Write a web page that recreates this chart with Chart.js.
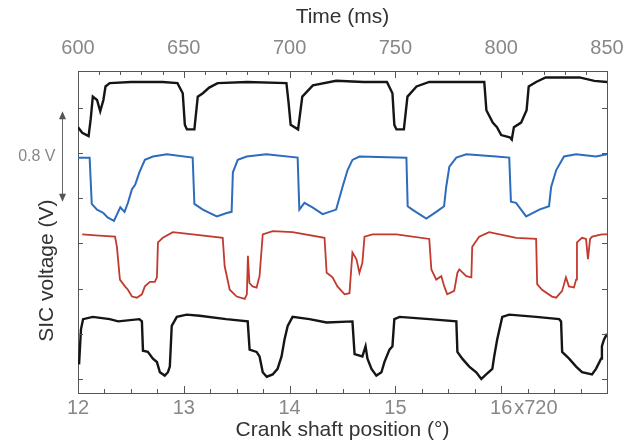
<!DOCTYPE html>
<html>
<head>
<meta charset="utf-8">
<script src="https://cdn.jsdelivr.net/npm/chart.js@4.4.1/dist/chart.umd.min.js"></script>
<style>
  body { margin: 0; background: #fff; }
  canvas { display: block; }
</style>
</head>
<body>
<canvas id="myChart" width="624" height="443"></canvas>
<script>
// tick labels
const timeTicks = [600, 650, 700, 750, 800, 850];
const crankTicks = [12, 13, 14, 15, 16];
const voltTicks = [0, 0.4, 0.8, 1.2, 1.6, 2.0, 2.4];

// trace 1 (black, top)
const t1 = [600, 602, 605, 606, 607, 609, 610.5, 612, 613, 615, 625, 640, 647, 649.5, 650.5, 651.5, 655, 656.6, 659, 662,
  666, 680, 698.5, 699.5, 700.5, 704, 706, 711, 722, 735, 746, 748.6, 749.5, 750.5, 754, 755.7, 760, 766, 780, 792,
  793, 796, 798, 800, 804, 805, 806, 809.4, 812, 813, 816.5, 821, 829, 837, 844, 850];
const v1 = [2.23, 2.18, 2.15, 2.30, 2.50, 2.47, 2.37, 2.47, 2.59, 2.62, 2.63, 2.63, 2.62, 2.53, 2.25, 2.21, 2.21, 2.50, 2.53, 2.58,
  2.62, 2.63, 2.62, 2.45, 2.25, 2.21, 2.50, 2.60, 2.64, 2.63, 2.63, 2.53, 2.25, 2.21, 2.21, 2.50, 2.59, 2.63, 2.63, 2.63,
  2.38, 2.27, 2.23, 2.16, 2.14, 2.12, 2.23, 2.27, 2.38, 2.59, 2.63, 2.67, 2.67, 2.67, 2.64, 2.63];

// trace 2 (blue)
const t2 = [600, 605.5, 606.5, 609, 612, 614, 617, 620, 622, 623.6, 625.5, 627, 629, 631.6, 635.4, 642, 654.2, 655, 659, 665.6,
  670.3, 672.6, 673.2, 675.5, 679.7, 689, 703.8, 704.6, 707, 710.8, 715.6, 722, 725, 727.4, 729.7, 733, 755.2, 755.8, 758, 764.6,
  769.3, 773, 774, 775.5, 778.8, 783.5, 797.6, 803.8, 804.6, 807, 811.8, 818, 822.6, 823.6, 826, 829.7, 835.4, 844.8, 850];
const v2 = [1.96, 1.96, 1.55, 1.50, 1.47, 1.43, 1.40, 1.52, 1.48, 1.56, 1.68, 1.72, 1.83, 1.94, 1.97, 1.99, 1.96, 1.55, 1.50, 1.44,
  1.47, 1.48, 1.83, 1.94, 1.97, 1.99, 1.96, 1.50, 1.56, 1.52, 1.46, 1.50, 1.70, 1.85, 1.94, 1.97, 1.96, 1.53, 1.50, 1.42,
  1.48, 1.53, 1.70, 1.88, 1.96, 1.99, 1.97, 1.96, 1.57, 1.56, 1.44, 1.50, 1.53, 1.70, 1.85, 1.97, 1.99, 1.97, 1.99];

// trace 3 (red)
const t3 = [602, 610, 617.5, 618.4, 619.8, 622.2, 623.6, 625.5, 627.8, 630.2, 631.6, 634, 636.3, 637.3, 637.8, 640.1, 644.8, 654.2, 668.4, 669.3,
  671.7, 675, 678.8, 679.8, 680.3, 681, 682.5, 684.4, 685.8, 687.3, 692, 701.4, 716.5, 717.5, 720.3, 722.6, 726, 728.3, 729.7, 731.6,
  733, 734.4, 735.4, 739.2, 750.5, 766, 767, 769.3, 771.7, 773.1, 774.5, 777.8, 779.3, 780.2, 783.5, 785.9, 786.3, 789.6, 794.3, 807.1,
  816.5, 817, 819.3, 824, 826, 828.8, 830.6, 832, 834.4, 835.4, 835.8, 838.2, 840.1, 841, 842, 843, 847.6, 850];
const v3 = [1.28, 1.27, 1.26, 1.17, 0.88, 0.82, 0.79, 0.73, 0.72, 0.75, 0.82, 0.86, 0.86, 0.90, 1.21, 1.25, 1.30, 1.28, 1.25, 1.00,
  0.79, 0.73, 0.71, 0.75, 1.09, 0.85, 0.82, 0.81, 0.91, 1.28, 1.31, 1.30, 1.25, 0.94, 0.90, 0.82, 0.75, 0.76, 1.12, 1.06,
  0.94, 1.03, 1.26, 1.28, 1.28, 1.24, 0.97, 0.88, 0.91, 0.82, 0.75, 0.78, 0.94, 0.97, 0.91, 0.90, 1.17, 1.26, 1.30, 1.25,
  1.24, 0.84, 0.79, 0.73, 0.72, 0.78, 0.90, 0.82, 0.81, 0.88, 1.21, 1.25, 1.24, 1.06, 1.24, 1.26, 1.28, 1.28];

// trace 4 (black, bottom)
const t4 = [600.5, 601.4, 602.4, 607, 615, 619, 629, 630.2, 630.7, 633, 635.4, 637.3, 638.7, 641, 642.5, 643.4, 644.3, 646.7, 651.4, 657.5,
  670, 680.2, 681.1, 684.4, 685.8, 687.3, 689.2, 692, 694.3, 696.2, 697.6, 699.1, 701.4, 709.4, 717.5, 729.7, 730.7, 734.4, 735.9, 736.8,
  738.7, 741, 743.4, 744.8, 747.2, 748.6, 749.5, 752, 766, 778.8, 779.3, 781.6, 784.9, 788.2, 790.6, 792.9, 795.8, 796.7, 798.1, 800.5,
  803.8, 816.5, 827.4, 828.3, 828.8, 832.1, 835.4, 838.2, 842.9, 844.8, 847.2, 847.6, 848.6, 850];
const v4 = [0.13, 0.44, 0.53, 0.55, 0.53, 0.51, 0.53, 0.51, 0.25, 0.24, 0.18, 0.15, 0.06, 0.03, 0.06, 0.11, 0.47, 0.55, 0.57, 0.56,
  0.53, 0.51, 0.26, 0.24, 0.20, 0.06, 0.02, 0.04, 0.09, 0.20, 0.35, 0.47, 0.55, 0.53, 0.50, 0.51, 0.22, 0.20, 0.29, 0.18,
  0.09, 0.03, 0.06, 0.15, 0.26, 0.29, 0.53, 0.55, 0.53, 0.51, 0.24, 0.18, 0.11, 0.06, 0.00, 0.04, 0.09, 0.20, 0.35, 0.55,
  0.57, 0.55, 0.53, 0.51, 0.24, 0.18, 0.11, 0.06, 0.04, 0.09, 0.18, 0.29, 0.35, 0.40];

const fontFamily = '"Liberation Sans", Arial, sans-serif';

function pts(t, v) {
    return t.map((x, i) => ({ x: x, y: v[i] }));
}

// inward tick marks, y title, scale bar and the "x720" suffix
const decorPlugin = {
    id: 'decor',
    afterDraw(chart) {
        const ctx = chart.ctx;
        const a = chart.chartArea;
        const sx = chart.scales.x, sc = chart.scales.crank, sy = chart.scales.y;
        ctx.save();
        ctx.strokeStyle = '#555';
        ctx.lineWidth = 1;
        ctx.beginPath();
        // top axis: every 10 ms, longer at labels
        for (let t = 600; t <= 850; t += 10) {
            const px = Math.round(sx.getPixelForValue(t)) + 0.5;
            const len = timeTicks.includes(t) ? 7 : 4;
            ctx.moveTo(px, a.top); ctx.lineTo(px, a.top + len);
        }
        // bottom axis: every quarter turn
        for (let c = 12; c <= 17.001; c += 0.25) {
            const px = Math.round(sc.getPixelForValue(c)) + 0.5;
            const len = Math.abs(c - Math.round(c)) < 0.01 ? 7 : 4;
            ctx.moveTo(px, a.bottom); ctx.lineTo(px, a.bottom - len);
        }
        // left and right axes
        voltTicks.forEach(v => {
            const py = Math.round(sy.getPixelForValue(v)) + 0.5;
            ctx.moveTo(a.left, py); ctx.lineTo(a.left + 5, py);
            ctx.moveTo(a.right, py); ctx.lineTo(a.right - 5, py);
        });
        ctx.stroke();

        // y axis title, sits below the middle of the axis
        ctx.save();
        ctx.translate(47, a.top + 0.62 * (a.bottom - a.top));
        ctx.rotate(-Math.PI / 2);
        ctx.fillStyle = '#333';
        ctx.font = '21px ' + fontFamily;
        ctx.textAlign = 'center';
        ctx.textBaseline = 'middle';
        ctx.fillText('SIC voltage (V)', 0, 0);
        ctx.restore();

        // 0.8 V scale bar
        const ax = a.left - 15.5;
        const yTop = sy.getPixelForValue(2.37), yBot = sy.getPixelForValue(1.57);
        ctx.strokeStyle = '#666';
        ctx.fillStyle = '#555';
        ctx.beginPath();
        ctx.moveTo(ax, yTop + 6); ctx.lineTo(ax, yBot - 6);
        ctx.stroke();
        ctx.beginPath();
        ctx.moveTo(ax, yTop); ctx.lineTo(ax - 3.5, yTop + 8); ctx.lineTo(ax + 3.5, yTop + 8); ctx.closePath();
        ctx.moveTo(ax, yBot); ctx.lineTo(ax - 3.5, yBot - 8); ctx.lineTo(ax + 3.5, yBot - 8); ctx.closePath();
        ctx.fill();
        ctx.fillStyle = '#888';
        ctx.font = '16px ' + fontFamily;
        ctx.textAlign = 'right';
        ctx.textBaseline = 'middle';
        ctx.fillText('0.8 V', ax - 7, (yTop + yBot) / 2);

        // multiplier after the last crank label
        ctx.fillStyle = '#888';
        ctx.font = '20px ' + fontFamily;
        ctx.textAlign = 'left';
        ctx.textBaseline = 'middle';
        const p16 = sc.getPixelForValue(16);
        ctx.fillText('x720', p16 + 13, a.bottom + 15);
        ctx.restore();
    }
};

function createChart() {
    const ctx = document.getElementById('myChart').getContext('2d');
    const font = { family: fontFamily };
    new Chart(ctx, {
        type: 'line',
        data: {
            datasets: [
                { data: pts(t1, v1), borderColor: '#151515', borderWidth: 2.4 },
                { data: pts(t2, v2), borderColor: '#2d6cbd', borderWidth: 2 },
                { data: pts(t3, v3), borderColor: '#c23a2e', borderWidth: 1.8 },
                { data: pts(t4, v4), borderColor: '#151515', borderWidth: 2.4 }
            ]
        },
        options: {
            responsive: false,
            animation: false,
            elements: { point: { radius: 0 }, line: { tension: 0 } },
            layout: { padding: { left: 78, right: 17, top: 7, bottom: 2 } },
            plugins: { legend: { display: false }, tooltip: { enabled: false } },
            scales: {
                x: {
                    type: 'linear',
                    position: 'top',
                    min: 600, max: 850,
                    afterFit: s => { s.height = 64; s.paddingLeft = 0; s.paddingRight = 0; },
                    grid: { display: false, drawTicks: false },
                    border: { display: true, color: '#555' },
                    ticks: {
                        stepSize: 50, maxRotation: 0, padding: 12, color: '#888',
                        font: { ...font, size: 20, lineHeight: 1.1 }
                    },
                    title: {
                        display: true, text: 'Time (ms)', color: '#333',
                        font: { ...font, size: 21, lineHeight: 1 },
                        padding: { top: 0, bottom: 9 }
                    }
                },
                crank: {
                    type: 'linear',
                    axis: 'x',
                    position: 'bottom',
                    min: 12, max: 17,
                    afterFit: s => { s.height = 48; s.paddingLeft = 0; s.paddingRight = 0; },
                    grid: { display: false, drawTicks: false },
                    border: { display: true, color: '#555' },
                    ticks: {
                        stepSize: 1, maxRotation: 0, padding: 4, color: '#888',
                        font: { ...font, size: 20, lineHeight: 1.1 },
                        callback: v => crankTicks.includes(v) ? String(v) : ''
                    },
                    title: {
                        display: true, text: 'Crank shaft position (°)', color: '#333',
                        font: { ...font, size: 21, lineHeight: 1 },
                        padding: { top: 0, bottom: 0 }
                    }
                },
                y: {
                    type: 'linear',
                    position: 'left',
                    min: -0.124, max: 2.727,
                    grid: { display: false, drawTicks: false },
                    border: { display: true, color: '#555' },
                    ticks: { display: false }
                },
                y2: {
                    type: 'linear',
                    position: 'right',
                    min: -0.124, max: 2.727,
                    grid: { display: false, drawTicks: false },
                    border: { display: true, color: '#555' },
                    ticks: { display: false }
                }
            }
        },
        plugins: [decorPlugin]
    });
}

createChart();
</script>
</body>
</html>
